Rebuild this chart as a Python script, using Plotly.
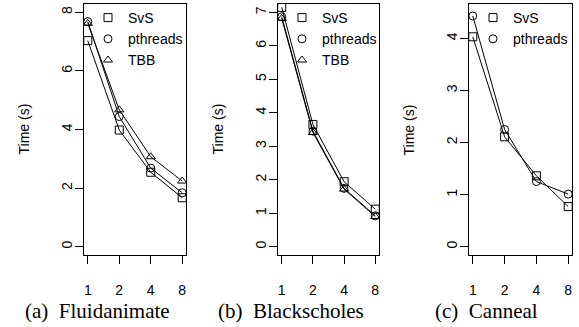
import plotly.graph_objects as go

threads = ["1", "2", "4", "8"]

fluid_svs = [7.03, 3.98, 2.54, 1.67]
fluid_pthreads = [7.68, 4.44, 2.68, 1.84]
fluid_tbb = [7.62, 4.67, 3.07, 2.24]

black_svs = [7.15, 3.65, 1.94, 1.12]
black_pthreads = [6.87, 3.45, 1.74, 0.92]
black_tbb = [6.82, 3.41, 1.72, 0.90]

canneal_svs = [4.03, 2.11, 1.36, 0.77]
canneal_pthreads = [4.43, 2.25, 1.25, 1.01]

captions = ["(a)  Fluidanimate", "(b)  Blackscholes", "(c)  Canneal"]
y_ticks = [[0, 2, 4, 6, 8], [0, 1, 2, 3, 4, 5, 6, 7], [0, 1, 2, 3, 4]]
y_ranges = [[-0.283, 8.28], [-0.25, 7.25], [-0.16, 4.66]]

W, H = 579, 327
x_doms = [(84, 186), (278, 379), (469, 572)]
y_top, y_bot = 4, 255
cap_x = [97.5, 291.0, 486.0]

symbols = {"SvS": "square-open", "pthreads": "circle-open", "TBB": "triangle-up-open"}
panels = [
    {"SvS": fluid_svs, "pthreads": fluid_pthreads, "TBB": fluid_tbb},
    {"SvS": black_svs, "pthreads": black_pthreads, "TBB": black_tbb},
    {"SvS": canneal_svs, "pthreads": canneal_pthreads},
]

fig = go.Figure()
sans = "Liberation Sans, Arial, sans-serif"
tickfont = dict(family=sans, size=14, color="black")

for i, series in enumerate(panels):
    xa = "x" if i == 0 else f"x{i+1}"
    ya = "y" if i == 0 else f"y{i+1}"
    lg = "legend" if i == 0 else f"legend{i+1}"
    for name, vals in series.items():
        fig.add_trace(go.Scatter(
            x=threads, y=vals, mode="lines+markers", name=name,
            xaxis=xa, yaxis=ya, showlegend=False,
            line=dict(color="black", width=1),
            marker=dict(symbol=symbols[name], size=8, color="black",
                        line=dict(color="black", width=1)),
        ))
        fig.add_trace(go.Scatter(
            x=[None], y=[None], mode="markers", name=name,
            xaxis=xa, yaxis=ya, showlegend=True, legend=lg,
            marker=dict(symbol=symbols[name], size=8, color="black",
                        line=dict(color="black", width=1)),
        ))
    x0, x1 = x_doms[i]
    axis_common = dict(showline=True, mirror=True, linecolor="black", linewidth=1,
                       ticks="outside", ticklen=8, tickcolor="black", tickwidth=1,
                       showgrid=False, zeroline=False, tickfont=tickfont,
                       ticklabelposition="outside")
    fig.update_layout({
        f"xaxis{'' if i == 0 else i+1}": dict(
            domain=[x0 / W, x1 / W], anchor=ya, type="category",
            range=[-0.12, 3.12], ticklabelstandoff=14, **axis_common),
        f"yaxis{'' if i == 0 else i+1}": dict(
            domain=[1 - y_bot / H, 1 - y_top / H], anchor=xa,
            range=y_ranges[i], tickvals=y_ticks[i], tickangle=-90,
            ticklabelstandoff=-3, **axis_common),
        lg: dict(x=(x0 + 4) / W, y=1 - 2 / H, xanchor="left", yanchor="top",
                 bgcolor="rgba(0,0,0,0)", borderwidth=0,
                 font=dict(family=sans, size=14, color="black"),
                 itemwidth=30, tracegroupgap=0),
    })
    fig.add_annotation(text="Time (s)", textangle=-90, xref="paper", yref="paper",
                       x=(x0 - 61) / W, y=1 - (y_top + y_bot) / 2 / H,
                       showarrow=False, xanchor="center", yanchor="middle",
                       font=dict(family=sans, size=14, color="black"))
    fig.add_annotation(text=captions[i], xref="paper", yref="paper",
                       x=cap_x[i] / W, y=1 - 311 / H,
                       showarrow=False, xanchor="center", yanchor="middle",
                       font=dict(family="Liberation Serif, Times New Roman, serif", size=21, color="black"))

fig.update_layout(width=W, height=H, margin=dict(l=0, r=0, t=0, b=0),
                  paper_bgcolor="white", plot_bgcolor="white")
fig.write_html("out.html", config={"displayModeBar": False},
               post_script="document.body.style.margin='0';document.body.style.overflow='hidden';")
